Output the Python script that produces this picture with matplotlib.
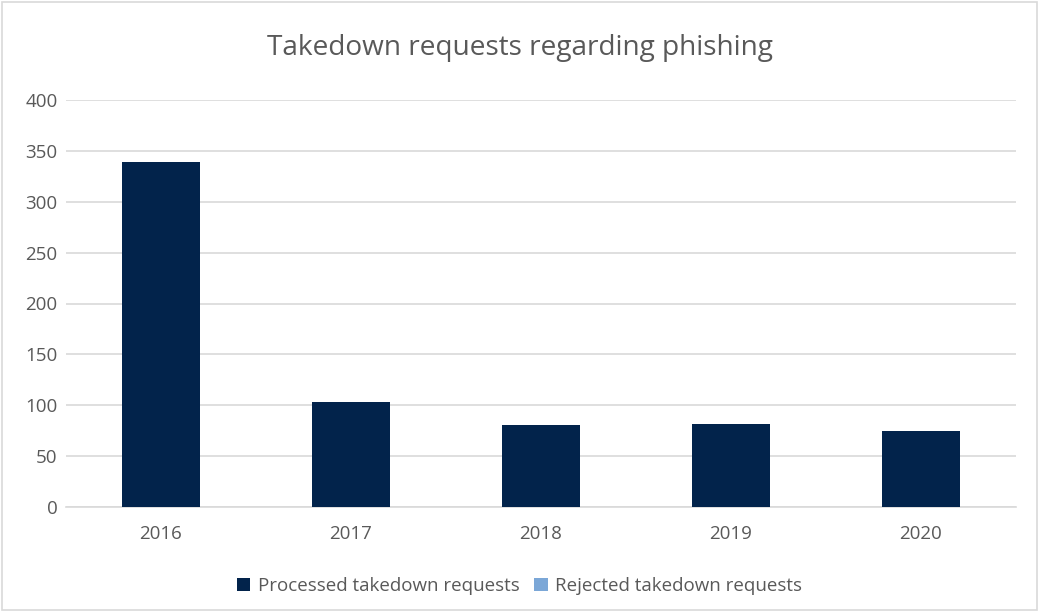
import matplotlib
matplotlib.use("Agg")
import matplotlib.pyplot as plt
from matplotlib.patches import Rectangle
import numpy as np

years = ["2016", "2017", "2018", "2019", "2020"]
processed = [339, 103, 81, 82, 75]
rejected = [0, 0, 0, 0, 0]
yticks = [0, 50, 100, 150, 200, 250, 300, 350, 400]

plt.rcParams['font.family'] = ['Open Sans', 'DejaVu Sans']
txt = '#595959'
fig = plt.figure(figsize=(10.39, 6.11), dpi=100)
fig.patches.append(Rectangle((0.002, 0.002), 0.996, 0.994, transform=fig.transFigure,
                             fill=False, edgecolor='#d9d9d9', linewidth=1.2))
ax = fig.add_axes([66/1039, 1-507/611, 950/1039, 407/611])
x = np.arange(len(years))
ax.bar(x, processed, width=0.41, color='#02234b', label='Processed takedown requests', zorder=3)
ax.bar(x, rejected, bottom=processed, width=0.41, color='#7ba7d7', label='Rejected takedown requests', zorder=3)
ax.set_xlim(-0.5, len(years)-0.5)
ax.set_ylim(0, 400)
ax.set_yticks(yticks)
ax.set_xticks(x)
ax.set_xticklabels(years)
ax.grid(axis='y', color='#d9d9d9', linewidth=1.2, zorder=0)
for s in ['top', 'right', 'left']:
    ax.spines[s].set_visible(False)
ax.spines['bottom'].set_color('#d9d9d9')
ax.spines['bottom'].set_linewidth(1.2)
ax.tick_params(axis='both', length=0, labelsize=13.5, labelcolor=txt)
ax.tick_params(axis='x', pad=13)
ax.tick_params(axis='y', pad=6)
fig.text(0.5, 1-48/611, "Takedown requests regarding phishing", ha='center', va='center',
         fontsize=20.2, color=txt)
fig.legend(loc='center', bbox_to_anchor=(0.5, 1-586/611), ncol=2, frameon=False,
           fontsize=13.5, labelcolor=txt, handlelength=0.7, handleheight=0.7,
           handletextpad=0.4, columnspacing=0.8)
fig.savefig("out.png", dpi=100)
